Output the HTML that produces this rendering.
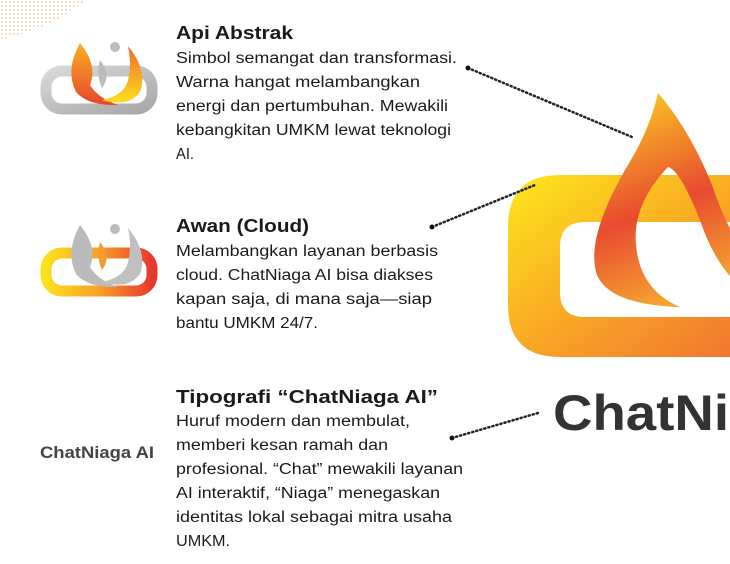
<!DOCTYPE html>
<html><head><meta charset="utf-8"><style>
html,body{margin:0;padding:0;background:#fff;width:730px;height:564px;overflow:hidden}
svg{display:block}
text{font-family:"Liberation Sans",sans-serif;fill:#1a1a1a}
.b{font-size:15.5px}
.t{font-size:18.5px;font-weight:bold}
</style></head><body>
<svg width="730" height="564" viewBox="0 0 730 564" xmlns="http://www.w3.org/2000/svg">
<defs>
<linearGradient id="g1" x1="0" y1="0" x2="1" y2="1"><stop offset="0" stop-color="#fde81a"/><stop offset="0.5" stop-color="#f9a825"/><stop offset="1" stop-color="#f07030"/></linearGradient>
<linearGradient id="g2" x1="0" y1="0" x2="0.3" y2="1"><stop offset="0" stop-color="#fcd820"/><stop offset="0.6" stop-color="#e84a30"/><stop offset="1" stop-color="#f5a030"/></linearGradient>
<linearGradient id="gs" x1="0" y1="0" x2="1" y2="0"><stop offset="0" stop-color="#fbe11c"/><stop offset="0.5" stop-color="#f7a02a"/><stop offset="1" stop-color="#e8382e"/></linearGradient>
<linearGradient id="gr" x1="0" y1="0" x2="1" y2="1"><stop offset="0" stop-color="#d8d8d8"/><stop offset="1" stop-color="#a8a8a8"/></linearGradient>
<linearGradient id="gf" x1="0" y1="0" x2="0" y2="1"><stop offset="0" stop-color="#f9b020"/><stop offset="1" stop-color="#e8452e"/></linearGradient>
<linearGradient id="gf2" x1="0" y1="0" x2="0" y2="1"><stop offset="0" stop-color="#f06a2a"/><stop offset="1" stop-color="#fbe020"/></linearGradient>
<pattern id="dots" width="4" height="4" patternUnits="userSpaceOnUse"><circle cx="2" cy="2" r="1" fill="#f2c9a0"/></pattern>
</defs>
<path d="M0 0 H85 Q60 25 0 40 Z" fill="url(#dots)" opacity="0.8"/>

<!-- big logo -->
<path d="M560 175 H760 V357 H560 Q508 357 508 305 V227 Q508 175 560 175 Z M585 222 Q560 222 560 247 V292 Q560 317 585 317 H760 V222 Z" fill="url(#g1)" fill-rule="evenodd"/>
<path d="M658 93 Q690 130 712 185 Q730 240 760 270 V300 Q720 280 700 220 Q680 170 668 167 Q632 205 636 245 Q640 290 680 307 Q610 305 597 275 Q585 240 625 170 Q650 130 658 93 Z" fill="url(#g2)"/>
<text x="553" y="430" style="font-size:50px;font-weight:bold;fill:#333" textLength="176" lengthAdjust="spacingAndGlyphs">ChatNi</text>

<!-- small logo 1 -->
<g transform="translate(40,40)">
<rect x="6" y="31" width="106" height="38" rx="16" fill="none" stroke="url(#gr)" stroke-width="11"/>
<path d="M40 3 Q58 25 50 45 Q58 58 78 65 Q48 66 36 52 Q25 30 40 3Z" fill="url(#gf)"/>
<path d="M88 6 Q108 30 100 52 Q88 68 62 60 Q85 55 88 40 Q92 25 88 6Z" fill="url(#gf2)"/>
<circle cx="75" cy="7" r="5" fill="#bbb"/>
<path d="M60 20 Q72 35 62 48 Q56 35 60 20Z" fill="#bbb"/>
</g>
<!-- small logo 2 -->
<g transform="translate(40,222)">
<rect x="6" y="31" width="106" height="38" rx="16" fill="none" stroke="url(#gs)" stroke-width="11"/>
<path d="M40 3 Q58 25 50 45 Q58 58 78 65 Q48 66 36 52 Q25 30 40 3Z" fill="#bbb"/>
<path d="M88 6 Q108 30 100 52 Q88 68 62 60 Q85 55 88 40 Q92 25 88 6Z" fill="#c0c0c0"/>
<circle cx="75" cy="7" r="5" fill="#bbb"/>
<path d="M60 20 Q72 35 62 48 Q56 35 60 20Z" fill="#f59a30"/>
</g>
<text x="40" y="458" style="font-size:16.5px;font-weight:bold;fill:#444" textLength="114" lengthAdjust="spacingAndGlyphs">ChatNiaga AI</text>

<!-- dotted connectors -->
<g stroke="#222" stroke-width="2.5" stroke-dasharray="1.2 3" stroke-linecap="round" fill="none">
<line x1="468" y1="68" x2="632" y2="137"/>
<line x1="432" y1="227" x2="535" y2="185"/>
<line x1="452" y1="438" x2="538" y2="413"/>
</g>
<circle cx="468" cy="68" r="2.5" fill="#111"/>
<circle cx="432" cy="227" r="2.5" fill="#111"/>
<circle cx="452" cy="438" r="2.5" fill="#111"/>

<text class="t" x="176" y="39" textLength="117" lengthAdjust="spacingAndGlyphs">Api Abstrak</text>
<text class="b" x="176" y="63" textLength="281" lengthAdjust="spacingAndGlyphs">Simbol semangat dan transformasi.</text>
<text class="b" x="176" y="87" textLength="244" lengthAdjust="spacingAndGlyphs">Warna hangat melambangkan</text>
<text class="b" x="176" y="111" textLength="272" lengthAdjust="spacingAndGlyphs">energi dan pertumbuhan. Mewakili</text>
<text class="b" x="176" y="135" textLength="275" lengthAdjust="spacingAndGlyphs">kebangkitan UMKM lewat teknologi</text>
<text class="b" x="176" y="159" textLength="18" lengthAdjust="spacingAndGlyphs">AI.</text>

<text class="t" x="176" y="232" textLength="133" lengthAdjust="spacingAndGlyphs">Awan (Cloud)</text>
<text class="b" x="176" y="256" textLength="262" lengthAdjust="spacingAndGlyphs">Melambangkan layanan berbasis</text>
<text class="b" x="176" y="280" textLength="257" lengthAdjust="spacingAndGlyphs">cloud. ChatNiaga AI bisa diakses</text>
<text class="b" x="176" y="304" textLength="256" lengthAdjust="spacingAndGlyphs">kapan saja, di mana saja—siap</text>
<text class="b" x="176" y="328" textLength="142" lengthAdjust="spacingAndGlyphs">bantu UMKM 24/7.</text>

<text class="t" x="176" y="403" textLength="262" lengthAdjust="spacingAndGlyphs">Tipografi “ChatNiaga AI”</text>
<text class="b" x="176" y="426" textLength="234" lengthAdjust="spacingAndGlyphs">Huruf modern dan membulat,</text>
<text class="b" x="176" y="450" textLength="212" lengthAdjust="spacingAndGlyphs">memberi kesan ramah dan</text>
<text class="b" x="176" y="474" textLength="287" lengthAdjust="spacingAndGlyphs">profesional. “Chat” mewakili layanan</text>
<text class="b" x="176" y="498" textLength="264" lengthAdjust="spacingAndGlyphs">AI interaktif, “Niaga” menegaskan</text>
<text class="b" x="176" y="522" textLength="276" lengthAdjust="spacingAndGlyphs">identitas lokal sebagai mitra usaha</text>
<text class="b" x="176" y="546" textLength="54" lengthAdjust="spacingAndGlyphs">UMKM.</text>
</svg>
</body></html>
